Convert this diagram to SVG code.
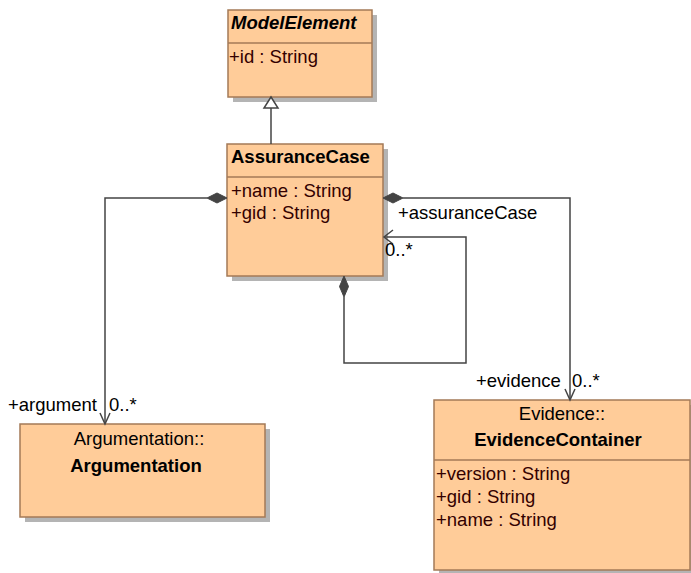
<svg xmlns="http://www.w3.org/2000/svg" width="691" height="573" viewBox="0 0 691 573">
<style>
.shadow{fill:#b4b4b4;}
.box{fill:#ffcc99;stroke:#a47a57;stroke-width:1.5;}
.div{stroke:#a47a57;stroke-width:1.5;}
text{font-family:"Liberation Sans",Arial,sans-serif;font-size:18.5px;}
.title{font-weight:bold;fill:#000;}
.abs{font-weight:bold;font-style:italic;fill:#000;}
.attr{fill:#330000;}
.lbl{fill:#000;}
.ns{fill:#000;text-anchor:middle;}
.ctr{text-anchor:middle;}
.conn path,.conn line,.conn polyline{stroke:#444;stroke-width:1.5;fill:none;}
.conn .dia{fill:#444;stroke:#444;stroke-width:1;}
.conn .gen{fill:#fff;stroke:#444;stroke-width:1.5;}
</style>
<rect width="691" height="573" fill="#fff"/>
<g id="ModelElement">
<rect class="shadow" x="233" y="15" width="144" height="87"/>
<rect class="box" x="228" y="10" width="144" height="87"/>
<line class="div" x1="228" y1="43" x2="372" y2="43"/>
<text class="abs" x="231" y="29">ModelElement</text>
<text class="attr" x="229" y="63">+id : String</text>
</g>
<g id="AssuranceCase">
<rect class="shadow" x="232" y="149" width="156" height="132"/>
<rect class="box" x="227" y="144" width="156" height="132"/>
<line class="div" x1="227" y1="177" x2="383" y2="177"/>
<text class="title" x="231" y="163">AssuranceCase</text>
<text class="attr" x="231" y="197">+name : String</text>
<text class="attr" x="231" y="219">+gid : String</text>
</g>
<g id="Argumentation">
<rect class="shadow" x="25" y="429" width="245" height="93"/>
<rect class="box" x="20" y="424" width="245" height="93"/>
<text class="ns" x="139" y="445">Argumentation::</text>
<text class="title ctr" x="136" y="472">Argumentation</text>
</g>
<g id="EvidenceContainer">
<rect class="shadow" x="439" y="405" width="256" height="171"/>
<rect class="box" x="434" y="400" width="256" height="170"/>
<line class="div" x1="434" y1="460" x2="690" y2="460"/>
<text class="ns" x="562" y="420">Evidence::</text>
<text class="title ctr" x="558" y="446">EvidenceContainer</text>
<text class="attr" x="436" y="480">+version : String</text>
<text class="attr" x="436" y="503">+gid : String</text>
<text class="attr" x="436" y="526">+name : String</text>
</g>
<g id="connectors" class="conn">
<line x1="271" y1="108" x2="271" y2="144"/>
<polygon class="gen" points="271,97 264,108 278,108"/>
<polyline points="207,198 105,198 105,423"/>
<polygon class="dia" points="227,198 217,193 207,198 217,203"/>
<polyline points="100,413 105,424 110,413"/>
<polyline points="403,198 570,198 570,399"/>
<polygon class="dia" points="383,198 393,193 403,198 393,203"/>
<polyline points="565,389 570,400 575,389"/>
<polyline points="344,297 344,363 466,363 466,237 384,237"/>
<polygon class="dia" points="344,276 348.5,286.5 344,297 339.5,286.5"/>
<polyline points="393,230 384,237 393,244"/>
</g>
<g id="labels">
<text class="lbl" x="398" y="219">+assuranceCase</text>
<text class="lbl" x="385" y="256">0..*</text>
<text class="lbl" x="8" y="411">+argument</text>
<text class="lbl" x="109" y="411">0..*</text>
<text class="lbl" x="476" y="387">+evidence</text>
<text class="lbl" x="572" y="387">0..*</text>
</g>
</svg>
